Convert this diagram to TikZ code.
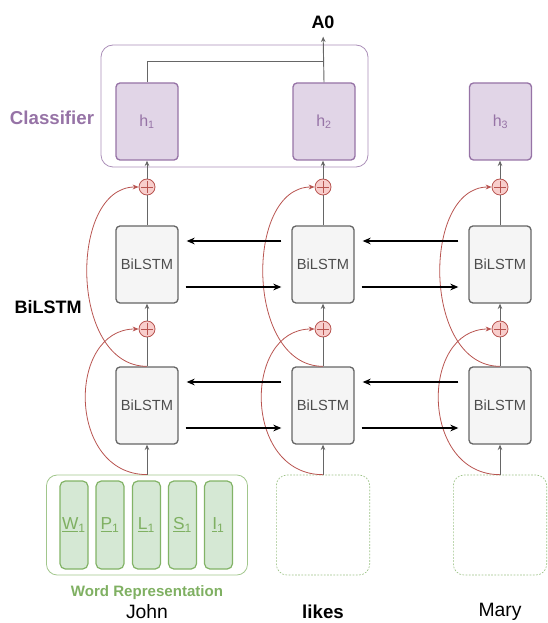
\documentclass[tikz,border=0pt]{standalone}
\usepackage{fontspec}
\setmainfont{Liberation Sans}
\usetikzlibrary{arrows.meta,calc}
\definecolor{hfill}{HTML}{E1D5E7}
\definecolor{hstroke}{HTML}{9673A6}
\definecolor{gfill}{HTML}{D5E8D4}
\definecolor{gstroke}{HTML}{82B366}
\definecolor{gtext}{HTML}{7FB062}
\definecolor{rfill}{HTML}{F8CECC}
\definecolor{rstroke}{HTML}{B85450}
\definecolor{lfill}{HTML}{F5F5F5}
\definecolor{lstroke}{HTML}{666666}
\definecolor{ltext}{HTML}{4D4D4D}
\tikzset{
  hbox/.style={draw=hstroke, fill=hfill, line width=1pt, rounded corners=3pt,
    minimum width=46.5pt, minimum height=57.75pt, inner sep=0pt,
    text=hstroke, font=\fontsize{12}{14}\selectfont},
  lbox/.style={draw=lstroke, fill=lfill, line width=1pt, rounded corners=3pt,
    minimum width=46.5pt, minimum height=57.75pt, inner sep=0pt,
    text=ltext, font=\fontsize{11}{13}\selectfont},
  fbox/.style={draw=gstroke, fill=gfill, line width=0.9pt, rounded corners=4pt,
    minimum width=21pt, minimum height=66pt, inner sep=0pt,
    text=gtext, font=\fontsize{13}{15}\selectfont},
  plusnode/.style={circle, draw=rstroke, fill=rfill, line width=0.6pt,
    minimum size=12pt, inner sep=0pt,
    path picture={\draw[rstroke, line width=0.6pt]
      ($(path picture bounding box.center)+(-4.2pt,0)$) -- ($(path picture bounding box.center)+(4.2pt,0)$)
      ($(path picture bounding box.center)+(0,-4.2pt)$) -- ($(path picture bounding box.center)+(0,4.2pt)$);}},
  gline/.style={draw=lstroke, line width=0.7pt},
  garrow/.style={gline, -{Stealth[length=4pt,width=3.4pt]}},
  barrow/.style={draw=black, line width=1.1pt, -{Stealth[length=6pt,width=5pt]}},
  rcurve/.style={draw=rstroke, line width=0.6pt, -{Stealth[length=4.5pt,width=3.6pt]}},
  dbox/.style={draw=gstroke!80, dashed, dash pattern=on 1.3pt off 1.1pt, line width=0.5pt,
    rounded corners=8pt, minimum width=70pt, minimum height=75pt, inner sep=0pt},
}
\begin{document}
\begin{tikzpicture}[x=0.75pt,y=-0.75pt]
\useasboundingbox (0,0) rectangle (547,623);

% classifier container
\node[draw=hstroke!80, line width=0.6pt, rounded corners=9pt,
  minimum width=200.25pt, minimum height=91.5pt, inner sep=0pt] (clf) at (234.5,106) {};

% h boxes
\node[hbox] (h1) at (147,121.5) {h\textsubscript{1}};
\node[hbox] (h2) at (324,121.5) {h\textsubscript{2}};
\node[hbox] (h3) at (500.5,121.5) {h\textsubscript{3}};

% plus nodes
\node[plusnode] (p1a) at (147,187) {};
\node[plusnode] (p2a) at (323,187) {};
\node[plusnode] (p3a) at (500,187) {};
\node[plusnode] (p1b) at (147,329) {};
\node[plusnode] (p2b) at (323,329) {};
\node[plusnode] (p3b) at (500,329) {};

% BiLSTM boxes
\node[lbox] (u1) at (147,264.5) {BiLSTM};
\node[lbox] (u2) at (323,264.5) {BiLSTM};
\node[lbox] (u3) at (500,264.5) {BiLSTM};
\node[lbox] (d1) at (147,405.5) {BiLSTM};
\node[lbox] (d2) at (323,405.5) {BiLSTM};
\node[lbox] (d3) at (500,405.5) {BiLSTM};

% word representation
\node[draw=gstroke!75, line width=0.6pt, rounded corners=8pt,
  minimum width=150.75pt, minimum height=75pt, inner sep=0pt] (wr) at (147,525) {};
\node[fbox] (fw) at (74,525) {\underline{W}\textsubscript{1}};
\node[fbox] (fp) at (110,525) {\underline{P}\textsubscript{1}};
\node[fbox] (fl) at (146.5,525) {\underline{L}\textsubscript{1}};
\node[fbox] (fs) at (182.5,525) {\underline{S}\textsubscript{1}};
\node[fbox] (fi) at (218.5,525) {\underline{I}\textsubscript{1}};
\node[dbox] (w2) at (323,525) {};
\node[dbox] (w3) at (500,525) {};

% labels
\node[text=hstroke, font=\bfseries\fontsize{14}{16}\selectfont] (lclf) at (52,118) {Classifier};
\node[font=\bfseries\fontsize{13.5}{16}\selectfont] (lbil) at (48,307) {BiLSTM};
\node[font=\bfseries\fontsize{13.5}{16}\selectfont, inner sep=0pt] (A0) at (323,22) {A0};
\node[text=gtext, font=\bfseries\fontsize{11.3}{13}\selectfont] (lwr) at (147,593) {Word Representation};
\node[font=\fontsize{14.5}{16}\selectfont] (john) at (147,612) {John};
\node[font=\bfseries\fontsize{14}{16}\selectfont] (likes) at (323,612) {likes};
\node[font=\fontsize{14.5}{16}\selectfont] (mary) at (500,612) {Mary};

% classifier output
\coordinate (jn) at (323,61);
\draw[gline] (h1.north) |- (jn);
\draw[garrow, shorten >=6pt] (h2.north) -- (A0.south);

% vertical flow
\draw[garrow] (p1a.north) -- (h1.south);
\draw[garrow] (p2a.north) -- (h2.south -| p2a);
\draw[garrow] (p3a.north) -- (h3.south -| p3a);
\draw[gline] (u1.north) -- (p1a.south);
\draw[gline] (u2.north) -- (p2a.south);
\draw[gline] (u3.north) -- (p3a.south);
\draw[garrow] (p1b.north) -- (u1.south);
\draw[garrow] (p2b.north) -- (u2.south);
\draw[garrow] (p3b.north) -- (u3.south);
\draw[gline] (d1.north) -- (p1b.south);
\draw[gline] (d2.north) -- (p2b.south);
\draw[gline] (d3.north) -- (p3b.south);
\draw[garrow] (wr.north) -- (d1.south);
\draw[garrow] (w2.north) -- (d2.south);
\draw[garrow] (w3.north) -- (d3.south);

% residual curves
\draw[rcurve] (d1.north) .. controls +(-78,0) and +(-70,0) .. (p1a.west);
\draw[rcurve] (d2.north) .. controls +(-78,0) and +(-70,0) .. (p2a.west);
\draw[rcurve] (d3.north) .. controls +(-78,0) and +(-70,0) .. (p3a.west);
\draw[rcurve] (wr.north) .. controls +(-80,0) and +(-72,0) .. (p1b.west);
\draw[rcurve] (w2.north) .. controls +(-80,0) and +(-72,0) .. (p2b.west);
\draw[rcurve] (w3.north) .. controls +(-80,0) and +(-72,0) .. (p3b.west);

% horizontal recurrent arrows
\draw[barrow] ($(u2.west)+(-10,-23.5)$) -- ($(u1.east)+(8,-23.5)$);
\draw[barrow] ($(u1.east)+(7,22.5)$) -- ($(u2.west)+(-10,22.5)$);
\draw[barrow] ($(u3.west)+(-10,-23.5)$) -- ($(u2.east)+(8,-23.5)$);
\draw[barrow] ($(u2.east)+(7,22.5)$) -- ($(u3.west)+(-10,22.5)$);
\draw[barrow] ($(d2.west)+(-10,-23.5)$) -- ($(d1.east)+(8,-23.5)$);
\draw[barrow] ($(d1.east)+(7,22.5)$) -- ($(d2.west)+(-10,22.5)$);
\draw[barrow] ($(d3.west)+(-10,-23.5)$) -- ($(d2.east)+(8,-23.5)$);
\draw[barrow] ($(d2.east)+(7,22.5)$) -- ($(d3.west)+(-10,22.5)$);
\end{tikzpicture}
\end{document}
